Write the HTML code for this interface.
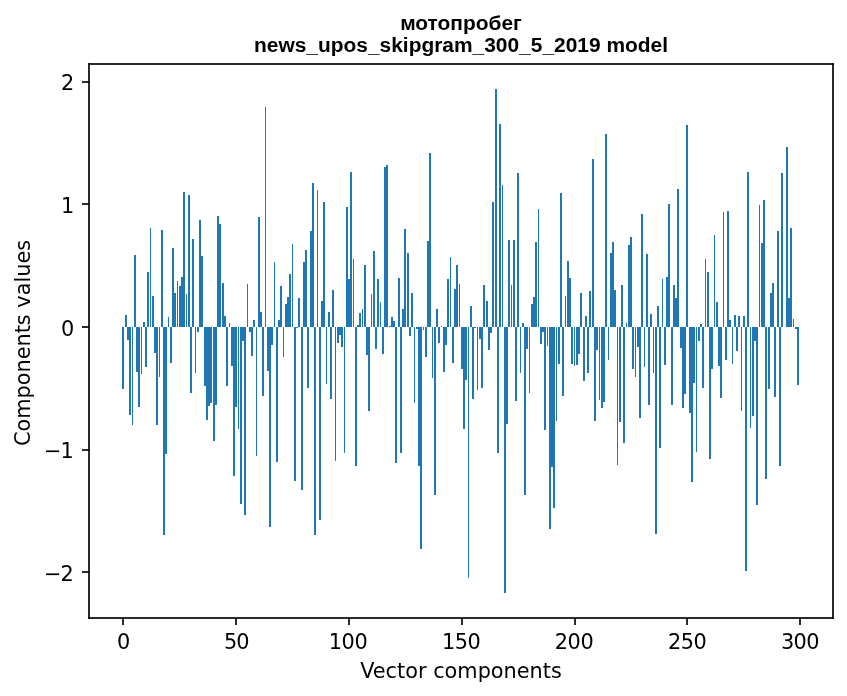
<!DOCTYPE html>
<html lang="ru"><head><meta charset="utf-8"><title>мотопробег — news_upos_skipgram_300_5_2019 model</title>
<style>
html,body{margin:0;padding:0;background:#fff;overflow:hidden}
svg{display:block;position:absolute;left:0;top:0}
text{white-space:pre}
</style></head>
<body>
<svg width="847" height="696" viewBox="0 0 847 696">
<rect width="847" height="696" fill="#fff"/>
<path fill="#1f77b4" shape-rendering="crispEdges" d="M122 327h2v62h-2zM125 315h2v12h-2zM127 327h2v13h-2zM129 327h2v88h-2zM132 327h1v98h-1zM134 255h2v72h-2zM136 327h2v45h-2zM138 327h2v80h-2zM141 327h1v47h-1zM143 322h2v5h-2zM145 327h2v40h-2zM147 272h2v55h-2zM150 228h1v99h-1zM152 296h2v31h-2zM154 327h2v26h-2zM156 327h2v98h-2zM159 327h1v50h-1zM161 230h2v97h-2zM163 327h2v208h-2zM165 327h2v127h-2zM168 317h1v10h-1zM170 327h2v36h-2zM172 248h2v79h-2zM174 293h2v34h-2zM177 281h1v46h-1zM179 286h2v41h-2zM181 277h2v50h-2zM183 192h2v135h-2zM186 294h1v33h-1zM188 195h2v132h-2zM190 327h2v66h-2zM192 239h2v88h-2zM195 327h1v46h-1zM197 327h2v5h-2zM199 220h2v107h-2zM201 256h2v71h-2zM204 327h2v59h-2zM206 327h2v93h-2zM208 327h2v79h-2zM210 327h2v76h-2zM213 327h2v114h-2zM215 327h2v78h-2zM217 216h2v111h-2zM219 224h2v103h-2zM222 283h2v44h-2zM224 316h2v11h-2zM226 327h2v59h-2zM229 323h1v4h-1zM231 327h2v39h-2zM233 327h2v149h-2zM235 327h2v80h-2zM238 327h1v102h-1zM240 327h2v177h-2zM242 327h2v14h-2zM244 327h2v188h-2zM247 284h1v43h-1zM249 327h2v5h-2zM251 327h2v29h-2zM253 320h2v7h-2zM256 327h1v129h-1zM258 217h2v110h-2zM260 312h2v15h-2zM262 327h2v69h-2zM265 107h1v220h-1zM267 327h2v44h-2zM269 327h2v200h-2zM271 327h2v18h-2zM274 262h1v65h-1zM276 327h2v135h-2zM278 320h2v7h-2zM280 286h2v41h-2zM283 327h1v30h-1zM285 304h2v23h-2zM287 297h2v30h-2zM289 274h2v53h-2zM292 244h1v83h-1zM294 327h2v154h-2zM296 327h2v1h-2zM298 298h2v29h-2zM301 327h2v163h-2zM303 262h2v65h-2zM305 250h2v77h-2zM307 327h2v61h-2zM310 231h2v96h-2zM312 183h2v144h-2zM314 327h2v208h-2zM317 190h1v137h-1zM319 327h2v193h-2zM321 301h2v26h-2zM323 202h2v125h-2zM326 327h1v57h-1zM328 312h2v15h-2zM330 327h2v72h-2zM332 290h2v37h-2zM335 327h1v134h-1zM337 327h2v16h-2zM339 327h2v8h-2zM341 327h2v20h-2zM344 327h1v126h-1zM346 207h2v120h-2zM348 279h2v48h-2zM350 172h2v155h-2zM353 259h1v68h-1zM355 327h2v139h-2zM357 325h2v2h-2zM359 313h2v14h-2zM362 309h1v18h-1zM364 265h2v62h-2zM366 327h2v28h-2zM368 327h2v84h-2zM371 294h1v33h-1zM373 251h2v76h-2zM375 327h2v22h-2zM377 279h2v48h-2zM380 302h1v25h-1zM382 327h2v27h-2zM384 167h2v160h-2zM386 165h2v162h-2zM389 326h2v1h-2zM391 317h2v10h-2zM393 321h2v6h-2zM395 327h2v136h-2zM398 278h2v49h-2zM400 327h2v126h-2zM402 309h2v18h-2zM404 229h2v98h-2zM407 253h2v74h-2zM409 327h2v9h-2zM411 293h2v34h-2zM414 327h1v76h-1zM416 327h2v2h-2zM418 327h2v139h-2zM420 327h2v222h-2zM423 327h1v3h-1zM425 327h2v30h-2zM427 241h2v86h-2zM429 153h2v174h-2zM432 327h1v51h-1zM434 327h2v168h-2zM436 309h2v18h-2zM438 327h2v16h-2zM441 326h1v1h-1zM443 327h2v45h-2zM445 327h2v18h-2zM447 279h2v48h-2zM450 257h1v70h-1zM452 327h2v36h-2zM454 289h2v38h-2zM456 265h2v62h-2zM459 284h1v43h-1zM461 327h2v42h-2zM463 327h2v102h-2zM465 327h2v53h-2zM468 327h1v251h-1zM470 306h2v21h-2zM472 327h2v72h-2zM474 327h2v1h-2zM477 327h1v63h-1zM479 327h2v12h-2zM481 327h2v61h-2zM483 285h2v42h-2zM486 301h2v26h-2zM488 327h2v23h-2zM490 327h2v6h-2zM492 202h2v125h-2zM495 89h2v238h-2zM497 327h2v126h-2zM499 124h2v203h-2zM502 185h1v142h-1zM504 327h2v266h-2zM506 327h2v97h-2zM508 240h2v87h-2zM511 285h1v42h-1zM513 240h2v87h-2zM515 327h2v74h-2zM517 173h2v154h-2zM520 327h1v46h-1zM522 323h2v4h-2zM524 327h2v168h-2zM526 327h2v22h-2zM529 327h1v66h-1zM531 304h2v23h-2zM533 297h2v30h-2zM535 242h2v85h-2zM538 209h1v118h-1zM540 327h2v17h-2zM542 327h2v5h-2zM544 327h2v103h-2zM547 327h1v19h-1zM549 327h2v202h-2zM551 327h2v140h-2zM553 327h2v181h-2zM556 327h1v94h-1zM558 327h2v37h-2zM560 193h2v134h-2zM562 327h2v69h-2zM565 296h1v31h-1zM567 261h2v66h-2zM569 278h2v49h-2zM571 327h2v37h-2zM574 327h1v39h-1zM576 327h2v38h-2zM578 327h2v27h-2zM580 293h2v34h-2zM583 327h2v54h-2zM585 316h2v11h-2zM587 327h2v46h-2zM589 291h2v36h-2zM592 159h2v168h-2zM594 327h2v94h-2zM596 327h2v23h-2zM599 327h1v73h-1zM601 327h2v81h-2zM603 327h2v75h-2zM605 134h2v193h-2zM608 327h1v33h-1zM610 253h2v74h-2zM612 242h2v85h-2zM614 290h2v37h-2zM617 327h1v138h-1zM619 327h2v95h-2zM621 285h2v42h-2zM623 327h2v116h-2zM626 323h1v4h-1zM628 245h2v82h-2zM630 237h2v90h-2zM632 327h2v42h-2zM635 327h1v50h-1zM637 327h2v20h-2zM639 327h2v91h-2zM641 214h2v113h-2zM644 327h1v40h-1zM646 254h2v73h-2zM648 327h2v78h-2zM650 314h2v13h-2zM653 327h1v46h-1zM655 327h2v207h-2zM657 306h2v21h-2zM659 327h2v121h-2zM662 279h1v48h-1zM664 327h2v38h-2zM666 277h2v50h-2zM668 204h2v123h-2zM671 327h2v78h-2zM673 285h2v42h-2zM675 298h2v29h-2zM677 189h2v138h-2zM680 327h2v21h-2zM682 327h2v81h-2zM684 327h2v67h-2zM686 125h2v202h-2zM689 327h2v86h-2zM691 327h2v155h-2zM693 327h2v56h-2zM696 327h1v125h-1zM698 327h2v14h-2zM700 324h2v3h-2zM702 327h2v61h-2zM705 259h1v68h-1zM707 272h2v55h-2zM709 327h2v132h-2zM711 327h2v42h-2zM714 235h1v92h-1zM716 302h2v25h-2zM718 327h2v39h-2zM720 327h2v71h-2zM723 212h1v115h-1zM725 327h2v33h-2zM727 211h2v116h-2zM729 320h2v7h-2zM732 327h1v37h-1zM734 315h2v12h-2zM736 327h2v24h-2zM738 316h2v11h-2zM741 327h1v84h-1zM743 316h2v11h-2zM745 327h2v244h-2zM747 172h2v155h-2zM750 327h1v101h-1zM752 327h2v89h-2zM754 327h2v14h-2zM756 327h2v178h-2zM759 205h1v122h-1zM761 243h2v84h-2zM763 200h2v127h-2zM765 327h2v152h-2zM768 327h2v62h-2zM770 293h2v34h-2zM772 283h2v44h-2zM774 327h2v70h-2zM777 231h2v96h-2zM779 327h2v139h-2zM781 173h2v154h-2zM786 147h2v180h-2zM788 298h2v29h-2zM790 228h2v99h-2zM793 319h1v8h-1zM795 327h2v2h-2zM797 327h2v58h-2z"/>
<g fill="#000" fill-opacity="0.835" shape-rendering="crispEdges"><rect x="88" y="63" width="746" height="2"/><rect x="88" y="617" width="746" height="2"/><rect x="88" y="65" width="2" height="552"/><rect x="832" y="65" width="2" height="552"/><rect x="122" y="618" width="2" height="7"/><rect x="235" y="618" width="2" height="7"/><rect x="348" y="618" width="2" height="7"/><rect x="461" y="618" width="2" height="7"/><rect x="574" y="618" width="2" height="7"/><rect x="686" y="618" width="2" height="7"/><rect x="799" y="618" width="2" height="7"/><rect x="82" y="81" width="7" height="2"/><rect x="82" y="203" width="7" height="2"/><rect x="82" y="326" width="7" height="2"/><rect x="82" y="449" width="7" height="2"/><rect x="82" y="571" width="7" height="2"/></g><g shape-rendering="crispEdges"><rect x="88" y="63" width="1" height="1" fill="rgb(23,23,23)"/><rect x="89" y="63" width="1" height="1" fill="rgb(12,12,12)"/><rect x="88" y="64" width="1" height="1" fill="rgb(12,12,12)"/><rect x="89" y="64" width="1" height="1" fill="rgb(7,7,7)"/><rect x="832" y="63" width="1" height="1" fill="rgb(12,12,12)"/><rect x="833" y="63" width="1" height="1" fill="rgb(23,23,23)"/><rect x="832" y="64" width="1" height="1" fill="rgb(7,7,7)"/><rect x="833" y="64" width="1" height="1" fill="rgb(12,12,12)"/><rect x="88" y="617" width="1" height="1" fill="rgb(12,12,12)"/><rect x="89" y="617" width="1" height="1" fill="rgb(7,7,7)"/><rect x="88" y="618" width="1" height="1" fill="rgb(23,23,23)"/><rect x="89" y="618" width="1" height="1" fill="rgb(12,12,12)"/><rect x="832" y="617" width="1" height="1" fill="rgb(7,7,7)"/><rect x="833" y="617" width="1" height="1" fill="rgb(12,12,12)"/><rect x="832" y="618" width="1" height="1" fill="rgb(12,12,12)"/><rect x="833" y="618" width="1" height="1" fill="rgb(23,23,23)"/></g>
<g style="font-family:'DejaVu Sans','Liberation Sans',sans-serif;font-size:20.8333px" fill="#000"><text x="123.64" y="648.5" text-anchor="middle">0</text><text x="236.19" y="648.5" text-anchor="middle" letter-spacing="-1.05">50</text><text x="347.99" y="648.5" text-anchor="middle" letter-spacing="-0.45">100</text><text x="461.04" y="648.5" text-anchor="middle" letter-spacing="-0.55">150</text><text x="574.10" y="648.5" text-anchor="middle" letter-spacing="-0.3">200</text><text x="687.15" y="648.5" text-anchor="middle" letter-spacing="-0.55">250</text><text x="799.95" y="648.5" text-anchor="middle" letter-spacing="-0.55">300</text><text x="74.25" y="89.90" text-anchor="end">2</text><text x="74.25" y="212.90" text-anchor="end">1</text><text x="74.25" y="335.90" text-anchor="end">0</text><text y="457.90" x="44.04 60.50" dy="0.0 -0.0" text-anchor="start">−1</text><text y="580.90" x="44.04 60.50" dy="0.0 -0.0" text-anchor="start">−2</text><text x="461.0" y="677.6" text-anchor="middle">Vector components</text><text transform="translate(29.6,343.0) rotate(-90)" text-anchor="middle">Components values</text></g>
<g style="font-family:'Liberation Sans',sans-serif;font-weight:bold;font-size:20.9333px" fill="#000" text-anchor="middle"><text x="461.0" y="30.0">мотопробег</text><text x="461.0" y="52.0">news_upos_skipgram_300_5_2019 model</text></g>
</svg>
</body></html>
